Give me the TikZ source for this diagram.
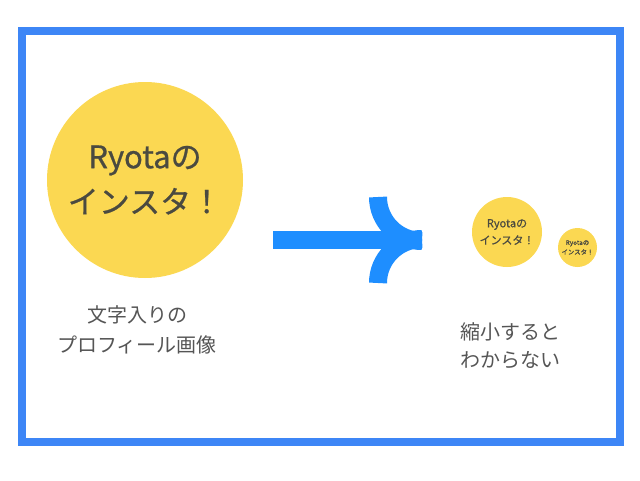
\documentclass[tikz,border=0pt]{standalone}
\usepackage{fontspec}
\setmainfont{Noto Sans CJK JP}
\newfontfamily\avatarfont{Noto Sans CJK JP}[FakeBold=0.8]
\definecolor{frameblue}{HTML}{3D86F6}
\definecolor{arrowblue}{HTML}{1E8EFF}
\definecolor{sunyellow}{HTML}{FBD852}
\definecolor{inkgray}{HTML}{4A4A40}
\definecolor{labelgray}{HTML}{555555}
\tikzset{
  avatar/.style={circle,fill=sunyellow,inner sep=0pt,align=center,text=inkgray},
  caption/.style={align=center,text=labelgray,inner sep=0pt},
  arrowpart/.style={draw=arrowblue,line width=18pt,line cap=butt}
}
\begin{document}
\begin{tikzpicture}[x=1pt,y=-1pt]
\useasboundingbox (0,0) rectangle (640,480);
\draw[frameblue,line width=8pt] (22,30.5) rectangle (620,442);
\node[avatar,minimum size=196pt,font=\avatarfont\fontsize{31}{45}\selectfont] (big) at (145,180) {Ryotaの\\インスタ！};
\node[avatar,minimum size=70pt,font=\avatarfont\fontsize{11}{17}\selectfont] (mid) at (507,232) {Ryotaの\\インスタ！};
\node[avatar,minimum size=39pt,font=\avatarfont\fontsize{6.4}{9.5}\selectfont] (small) at (577.5,247.5) {Ryotaの\\インスタ！};
\node[caption,font=\fontsize{20}{30}\selectfont] (cap1) at (137,330) {文字入りの\\プロフィール画像};
\node[caption,font=\fontsize{20}{28}\selectfont] (cap2) at (510,346) {縮小すると\\わからない};
\coordinate (tail) at (273,240);
\coordinate (tip) at (422,240);
\draw[arrowpart] (tail) -- (tip);
\draw[arrowpart] (378,197) arc[start angle=180,end angle=90,radius=44];
\draw[arrowpart] (378,283) arc[start angle=180,end angle=270,radius=44];
\end{tikzpicture}
\end{document}
